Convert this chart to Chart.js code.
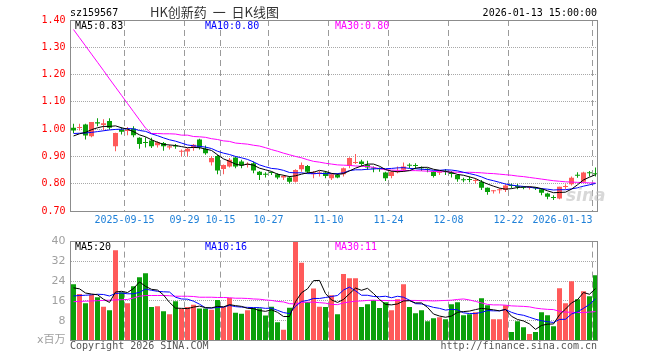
<!DOCTYPE html>
<html><head><meta charset="utf-8">
<script src="https://cdn.jsdelivr.net/npm/chart.js@4/dist/chart.umd.min.js"></script>
<style>
html,body{margin:0;padding:0;background:#fff;}
#wrap{position:relative;width:660px;height:360px;overflow:hidden;background:#fff;}
canvas{position:absolute;left:0;}
.t{position:absolute;white-space:nowrap;font-family:"DejaVu Sans Mono",monospace;font-size:10px;line-height:12px;}
</style></head><body>
<div id="wrap">
<canvas id="pc" width="660" height="230" style="top:0;width:660px;height:230px"></canvas>
<canvas id="vc" width="660" height="130" style="top:230px;width:660px;height:130px"></canvas>
<div class="t" style="left:70px;top:7px;color:#000">sz159567</div>
<div class="t" style="left:150px;top:4px;font-family:'Noto Sans CJK SC',sans-serif;font-size:13px;line-height:16px;color:#333">HK创新药&nbsp;&nbsp;一&nbsp;&nbsp;日K线图</div>
<div class="t" style="right:63px;top:7px;color:#000">2026-01-13 15:00:00</div>
<div class="t" style="left:75px;top:20px;color:#000">MA5:0.83</div>
<div class="t" style="left:205px;top:20px;color:#0000ff">MA10:0.80</div>
<div class="t" style="left:335px;top:20px;color:#ff00ff">MA30:0.80</div>
<div class="t" style="left:75px;top:241px;color:#000">MA5:20</div>
<div class="t" style="left:205px;top:241px;color:#0000ff">MA10:16</div>
<div class="t" style="left:335px;top:241px;color:#ff00ff">MA30:11</div>
<div class="t" style="left:70px;top:340px;color:#555">Copyright 2026 SINA.COM</div>
<div class="t" style="right:63px;top:340px;color:#555">http://finance.sina.com.cn</div>
<div class="t" style="left:566px;top:186px;font-family:'DejaVu Sans',sans-serif;font-size:17px;line-height:18px;font-weight:bold;font-style:italic;color:rgba(190,190,190,0.6)">sina</div>
</div>
<script>
const dates = ['2025-09-02','2025-09-03','2025-09-04','2025-09-05','2025-09-08','2025-09-09','2025-09-10','2025-09-11','2025-09-12',
'2025-09-15','2025-09-16','2025-09-17','2025-09-18','2025-09-19','2025-09-22','2025-09-23','2025-09-24','2025-09-25','2025-09-26',
'2025-09-29','2025-09-30','2025-10-09','2025-10-10','2025-10-13','2025-10-14',
'2025-10-15','2025-10-16','2025-10-17','2025-10-20','2025-10-21','2025-10-22','2025-10-23','2025-10-24',
'2025-10-27','2025-10-28','2025-10-29','2025-10-30','2025-10-31','2025-11-03','2025-11-04','2025-11-05','2025-11-06','2025-11-07',
'2025-11-10','2025-11-11','2025-11-12','2025-11-13','2025-11-14','2025-11-17','2025-11-18','2025-11-19','2025-11-20','2025-11-21',
'2025-11-24','2025-11-25','2025-11-26','2025-11-27','2025-11-28','2025-12-01','2025-12-02','2025-12-03','2025-12-04','2025-12-05',
'2025-12-08','2025-12-09','2025-12-10','2025-12-11','2025-12-12','2025-12-15','2025-12-16','2025-12-17','2025-12-18','2025-12-19',
'2025-12-22','2025-12-23','2025-12-24','2025-12-25','2025-12-26','2025-12-29','2025-12-30','2025-12-31',
'2026-01-05','2026-01-06','2026-01-07','2026-01-08','2026-01-09','2026-01-12','2026-01-13'];

const xTickDates = ['2025-09-15','2025-09-29','2025-10-15','2025-10-27','2025-11-10','2025-11-24','2025-12-08','2025-12-22','2026-01-13'];
const xTickText  = ['2025-09-15','09-29','10-15','10-27','11-10','11-24','12-08','12-22','2026-01-13'];

const opens = [1.005,1.004,1.017,0.974,1.025,1.015,1.030,0.937,0.999,0.993,
1.002,0.968,0.951,0.958,0.941,0.949,0.933,0.938,0.917,0.918,
0.931,0.962,0.928,0.879,0.902,0.854,0.863,0.896,0.881,0.869,
0.875,0.844,0.836,0.841,0.835,0.823,0.823,0.807,0.853,0.865,
0.835,0.837,0.841,0.820,0.832,0.835,0.865,0.876,0.881,0.869,
0.858,0.855,0.841,0.828,0.842,0.851,0.868,0.867,0.859,0.853,
0.844,0.840,0.846,0.841,0.832,0.815,0.815,0.810,0.807,0.785,
0.772,0.776,0.777,0.794,0.790,0.787,0.785,0.785,0.780,0.764,
0.750,0.746,0.788,0.798,0.831,0.807,0.840,0.837];
const highs = [1.020,1.020,1.020,1.026,1.040,1.036,1.040,0.987,1.007,1.008,
1.011,0.970,0.970,0.968,0.956,0.953,0.943,0.946,0.925,0.931,
0.946,0.965,0.940,0.902,0.906,0.870,0.894,0.900,0.888,0.879,
0.881,0.847,0.842,0.844,0.838,0.832,0.828,0.853,0.878,0.869,
0.847,0.847,0.847,0.838,0.838,0.859,0.897,0.909,0.888,0.884,
0.863,0.859,0.844,0.847,0.863,0.878,0.875,0.875,0.863,0.857,
0.847,0.847,0.854,0.847,0.835,0.822,0.826,0.820,0.814,0.786,
0.777,0.783,0.798,0.801,0.799,0.790,0.789,0.786,0.783,0.767,
0.758,0.789,0.798,0.826,0.842,0.844,0.847,0.859];
const lows = [0.986,0.995,0.962,0.970,1.011,0.995,0.999,0.919,0.980,0.978,
0.970,0.928,0.933,0.931,0.933,0.921,0.925,0.928,0.900,0.900,
0.921,0.925,0.906,0.867,0.835,0.835,0.859,0.857,0.857,0.859,
0.838,0.814,0.823,0.832,0.816,0.814,0.801,0.804,0.844,0.838,
0.820,0.826,0.820,0.814,0.820,0.826,0.857,0.872,0.865,0.851,
0.842,0.844,0.810,0.820,0.838,0.844,0.857,0.854,0.847,0.842,
0.823,0.832,0.832,0.823,0.807,0.805,0.805,0.801,0.777,0.760,
0.764,0.764,0.770,0.783,0.780,0.780,0.779,0.777,0.758,0.743,
0.740,0.743,0.780,0.793,0.822,0.805,0.826,0.826];
const closes = [0.995,1.008,0.977,1.026,1.021,1.022,1.005,0.986,0.990,0.997,
0.978,0.946,0.949,0.937,0.952,0.937,0.937,0.936,0.921,0.928,
0.943,0.933,0.912,0.894,0.848,0.869,0.888,0.863,0.867,0.873,
0.848,0.832,0.833,0.839,0.823,0.828,0.807,0.850,0.869,0.844,
0.841,0.841,0.828,0.835,0.823,0.857,0.894,0.879,0.872,0.859,
0.856,0.853,0.820,0.844,0.847,0.863,0.866,0.865,0.857,0.851,
0.828,0.844,0.844,0.836,0.816,0.813,0.814,0.814,0.785,0.770,
0.775,0.780,0.793,0.792,0.788,0.785,0.786,0.783,0.767,0.752,
0.748,0.789,0.790,0.822,0.829,0.841,0.838,0.835];

const ma5 = [0.975,0.983,0.988,0.998,1.005,1.010,1.010,1.012,1.005,1.000,
0.991,0.979,0.972,0.961,0.952,0.944,0.942,0.940,0.936,0.932,
0.933,0.932,0.927,0.922,0.906,0.891,0.882,0.872,0.867,0.872,
0.868,0.857,0.851,0.845,0.835,0.831,0.826,0.829,0.835,0.840,
0.842,0.849,0.845,0.838,0.834,0.837,0.847,0.857,0.865,0.872,
0.872,0.864,0.852,0.846,0.844,0.845,0.848,0.857,0.860,0.860,
0.853,0.849,0.845,0.841,0.834,0.831,0.825,0.819,0.808,0.799,
0.791,0.784,0.780,0.782,0.786,0.788,0.789,0.787,0.782,0.774,
0.767,0.768,0.769,0.780,0.796,0.814,0.824,0.833];
const ma10 = [0.984,0.985,0.986,0.988,0.991,0.994,0.997,0.999,1.000,
1.002,1.001,0.995,0.992,0.983,0.976,0.968,0.961,0.956,0.949,
0.942,0.939,0.937,0.934,0.929,0.919,0.912,0.907,0.900,0.895,
0.889,0.880,0.869,0.862,0.856,0.854,0.849,0.841,0.840,0.840,
0.837,0.837,0.838,0.837,0.837,0.837,0.840,0.848,0.851,0.851,
0.853,0.854,0.856,0.855,0.856,0.858,0.859,0.856,0.855,0.853,
0.852,0.849,0.849,0.851,0.850,0.847,0.842,0.837,0.832,0.825,
0.816,0.811,0.805,0.799,0.795,0.792,0.790,0.787,0.784,0.782,
0.780,0.777,0.778,0.778,0.781,0.785,0.791,0.796,0.801];
const ma30 = [1.365,1.335,1.305,1.275,1.245,1.215,1.184,1.154,1.124,1.094,1.064,1.034,1.004,
0.984,0.984,0.983,0.983,0.982,0.978,0.978,0.973,0.972,
0.970,0.965,0.962,0.957,0.955,0.949,0.947,0.945,0.941,0.938,0.932,0.925,0.919,0.912,0.906,0.900,0.895,0.888,0.882,0.879,0.875,0.872,
0.869,0.868,0.867,0.865,0.864,0.863,0.860,0.855,0.851,0.850,0.849,0.849,0.848,0.848,0.847,0.846,0.845,0.844,0.844,0.843,0.842,0.841,
0.842,0.841,0.840,0.838,0.837,0.835,0.833,0.831,0.828,0.826,0.823,0.820,0.817,0.814,0.811,0.809,0.807,0.806,0.805,0.804,0.803,0.803];

const volumes = [22.7,18.8,15.1,18.4,17.5,13.6,12.2,36.5,19.5,15.1,
21.9,25.6,27.2,13.5,13.9,11.8,10.6,15.9,12.8,13.5,
14.5,12.9,12.9,12.4,16.4,13.5,17.2,11.2,10.8,12.2,
13.2,12.9,10.1,13.6,7.4,4.3,13.2,40.0,31.4,15.6,
21.0,13.6,13.5,18.3,10.6,26.9,25.2,25.2,13.5,14.7,
16.3,13.1,15.5,12.2,16.7,22.7,13.5,11.0,12.2,7.8,
9.0,9.4,8.6,14.7,15.5,10.2,10.6,11.4,17.1,14.3,
8.6,8.6,14.3,3.4,7.8,5.4,2.6,3.4,11.4,10.2,
5.8,21.1,15.1,24.0,16.7,19.9,17.9,26.4];
const volMa5 = [21.3,20.9,19.2,18.8,18.5,16.7,15.4,19.6,19.9,19.4,
21.0,23.7,21.9,20.7,20.4,18.4,15.4,13.1,13.0,12.9,
13.5,13.9,13.3,13.2,13.8,13.6,14.5,14.1,13.8,13.0,
12.9,12.1,11.8,12.4,11.4,9.7,9.7,15.7,19.3,20.9,
24.2,24.3,19.0,16.4,15.4,16.6,18.9,21.2,20.3,21.1,
19.0,16.6,14.6,14.4,14.8,16.0,16.1,15.2,15.2,13.4,
10.7,9.9,9.4,9.9,11.4,11.7,11.9,12.5,13.0,12.7,
12.4,12.0,12.6,9.8,8.5,7.9,6.7,4.5,6.1,6.6,
6.7,10.4,12.7,15.2,16.5,19.4,18.7,21.0];
const volMa10 = [18.0,18.2,18.3,18.5,18.7,18.6,18.0,19.0,19.2,
18.9,18.9,19.5,20.8,20.3,19.9,19.7,19.6,17.5,16.8,
16.7,15.9,14.7,13.2,13.1,13.4,13.5,14.2,13.7,13.5,
13.4,13.3,13.3,13.0,13.1,12.2,11.3,10.9,13.8,15.8,
16.2,17.0,17.0,17.4,17.8,18.2,20.4,21.6,20.1,18.3,
18.3,17.8,17.7,17.9,17.3,17.9,17.5,16.3,14.9,14.8,
14.1,13.4,13.0,12.3,12.6,12.4,11.2,10.9,10.9,11.4,
12.1,12.0,12.0,12.5,11.4,10.6,10.2,9.4,8.6,8.0,
7.6,7.3,8.5,8.6,10.7,11.6,13.0,14.6,16.9];
const volMa30 = [15.7,15.8,15.9,16.0,16.1,16.2,16.3,16.4,16.5,16.6,
17.2,17.9,18.2,18.2,18.2,18.2,18.1,17.9,17.9,17.9,
17.8,17.5,17.5,17.5,17.4,17.4,17.3,17.1,17.1,17.0,
16.8,16.7,16.4,16.2,15.8,15.6,14.9,14.8,15.4,15.5,
15.5,15.3,15.1,14.6,14.5,15.2,15.6,15.9,16.0,16.2,
16.3,16.2,16.2,16.1,16.2,16.3,16.2,16.2,16.1,16.1,
16.0,16.1,16.2,16.3,16.6,16.8,16.4,15.8,15.2,14.6,
14.4,14.4,14.3,14.0,13.9,13.8,13.6,13.1,12.8,12.6,
12.5,11.8,11.5,11.4,11.3,11.3,11.5,11.7];

const UP = '#ff5a5a', DOWN = '#0aa00a';
const barColors = closes.map((c, i) => c >= opens[i] ? UP : DOWN);
const majorIdx = new Set(xTickDates.map(d => dates.indexOf(d)));
const labelAt = {};
xTickDates.forEach((d, k) => {
  let i = dates.indexOf(d);
  if (k === xTickDates.length - 1) i -= 5; // last label right-aligned to its grid line
  labelAt[i] = xTickText[k];
});

const al = v => Math.round(v - 0.5) + 0.5;
const boxPlugin = {
  id: 'box',
  afterDraw(chart) {
    const { ctx, chartArea: a } = chart;
    const L = al(a.left), T = al(a.top), R = al(a.right) - 1, B = al(a.bottom);
    ctx.save();
    ctx.strokeStyle = '#8c8c8c';
    ctx.lineWidth = 1;
    ctx.setLineDash([]);
    ctx.strokeRect(L, T, R - L, B - T);
    ctx.restore();
  }
};

function xScale(showLabels) {
  return {
    type: 'category',
    offset: true,
    grid: {
      offset: true, drawTicks: false, lineWidth: 1,
      color: c => majorIdx.has(c.index) ? '#9a9a9a' : 'rgba(0,0,0,0)'
    },
    border: { display: false, dash: [6, 4] },
    ticks: {
      display: showLabels, autoSkip: false, maxRotation: 0, minRotation: 0,
      padding: 3, labelOffset: -3, color: '#1f80d8',
      font: { family: 'DejaVu Sans Mono', size: 10 },
      callback: (v, i) => labelAt[i] || ''
    },
    afterFit: s => { s.height = showLabels ? 19 : 0; }
  };
}

const common = {
  responsive: false, animation: false, devicePixelRatio: 1,
  events: [],
  plugins: { legend: { display: false }, tooltip: { enabled: false } }
};

new Chart(document.getElementById('pc'), {
  type: 'bar',
  data: {
    labels: dates,
    datasets: [
      { type: 'line', data: ma5, borderColor: '#000', borderWidth: 1, pointRadius: 0, tension: 0, order: 0 },
      { type: 'line', data: ma10, borderColor: '#0000ff', borderWidth: 1, pointRadius: 0, tension: 0, order: 0 },
      { type: 'line', data: ma30, borderColor: '#ff00ff', borderWidth: 1, pointRadius: 0, tension: 0, order: 0 },
      { data: lows.map((l, i) => [l, highs[i]]), backgroundColor: barColors, barThickness: 1, grouped: false, inflateAmount: 0, borderWidth: 0, minBarLength: 1, order: 2 },
      { data: opens.map((o, i) => [o, closes[i]]), backgroundColor: barColors, barThickness: 5, grouped: false, inflateAmount: 0, borderWidth: 0, minBarLength: 1, order: 1 }
    ]
  },
  options: Object.assign({}, common, {
    layout: { padding: { left: 0, right: 61.5, top: 20, bottom: 0 } },
    scales: {
      x: xScale(true),
      y: {
        min: 0.7, max: 1.4,
        ticks: { stepSize: 0.1, padding: 5, color: '#ff0000', font: { family: 'DejaVu Sans Mono', size: 10 }, callback: v => Number(v).toFixed(2) },
        grid: { drawTicks: false, color: '#a8a8a8', lineWidth: 1 },
        border: { display: false, dash: [1, 1] },
        afterFit: s => { s.width = 70.5; }
      }
    }
  }),
  plugins: [boxPlugin]
});

new Chart(document.getElementById('vc'), {
  type: 'bar',
  data: {
    labels: dates,
    datasets: [
      { type: 'line', data: volMa5, borderColor: '#000', borderWidth: 1, pointRadius: 0, tension: 0, order: 0 },
      { type: 'line', data: volMa10, borderColor: '#0000ff', borderWidth: 1, pointRadius: 0, tension: 0, order: 0 },
      { type: 'line', data: volMa30, borderColor: '#ff00ff', borderWidth: 1, pointRadius: 0, tension: 0, order: 0 },
      { data: volumes, backgroundColor: barColors, barThickness: 5, grouped: false, inflateAmount: 0, borderWidth: 0, order: 1 }
    ]
  },
  options: Object.assign({}, common, {
    layout: { padding: { left: 0, right: 61.5, top: 10.5, bottom: 19.5 } },
    scales: {
      x: xScale(false),
      y: {
        min: 0, max: 40,
        ticks: { stepSize: 8, padding: 5, color: '#a0a0a0', font: { family: "'DejaVu Sans', 'Noto Sans CJK SC'", size: 11 }, callback: v => v === 0 ? 'x百万' : String(v) },
        grid: { drawTicks: false, color: '#a8a8a8', lineWidth: 1 },
        border: { display: false, dash: [1, 1] },
        afterFit: s => { s.width = 70.5; }
      }
    }
  }),
  plugins: [boxPlugin]
});
</script>
</body></html>
